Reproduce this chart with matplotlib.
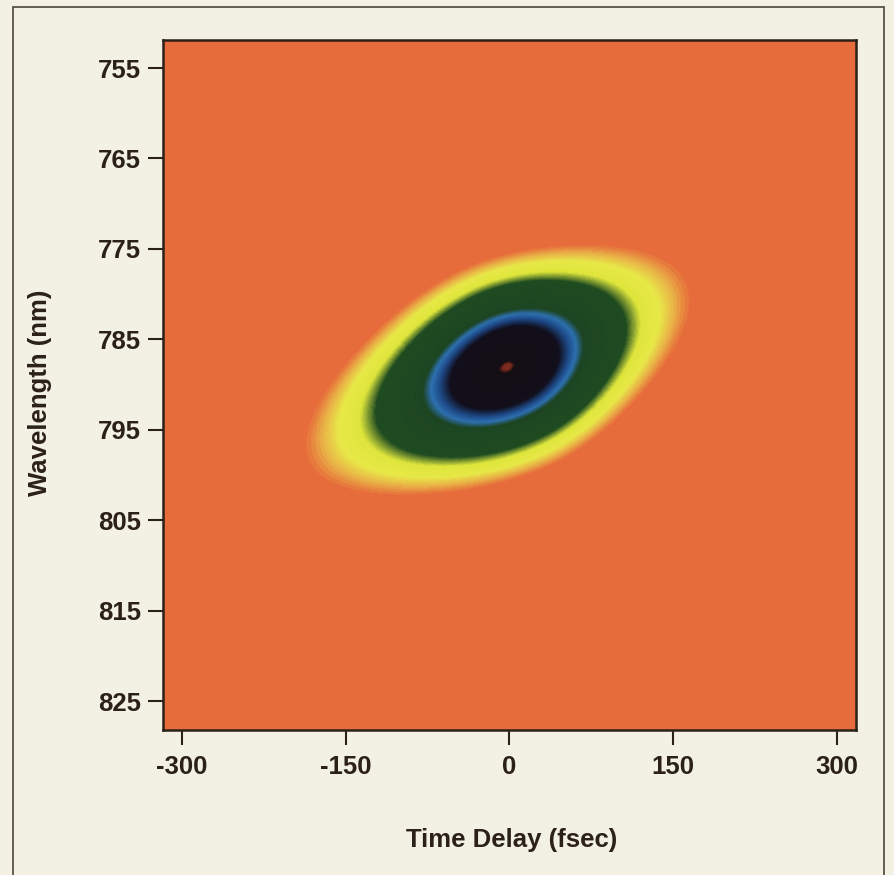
import numpy as np
import matplotlib
matplotlib.use("Agg")
import matplotlib.pyplot as plt
from matplotlib.colors import LinearSegmentedColormap
from matplotlib.patches import Rectangle

# tick values on both axes
delay_ticks = [-300, -150, 0, 150, 300]
wl_ticks = [755, 765, 775, 785, 795, 805, 815, 825]

# shape of the trace
peak_delay = -2.0         # fs
peak_wl = 788.1           # nm
chirp = -0.058            # nm per fs, slope of the long axis
cross = -3.98             # fs per nm, slope of the short axis
width_long = [92.0, 83.0]  # fs, sech^2 width towards -delay / +delay
width_short = 5.0         # nm, gaussian width across the long axis

# colour scale: fraction of peak -> colour
levels = [0.0, 0.028, 0.045, 0.065, 0.11, 0.135, 0.16, 0.42, 0.49, 0.56, 0.66, 0.993, 1.0]
colours = ["#e76c3b", "#e76c3b", "#e9b447", "#e8e848", "#dfe63c", "#7a9630", "#1f4b21",
           "#1d4522", "#2f72b2", "#1f4c8a", "#120f1c", "#130d14", "#7a2a1e"]

bg = "#f3f1e4"
ink = "#2b2119"

plt.rcParams["font.family"] = ["Liberation Sans", "DejaVu Sans"]
plt.rcParams["font.weight"] = "bold"
plt.rcParams["axes.unicode_minus"] = False

# build the trace on a grid covering the axes
t = np.linspace(-317.4, 317.4, 700)
wl = np.linspace(751.9, 828.2, 700)
T, W = np.meshgrid(t, wl)
dt = T - peak_delay
dw = W - peak_wl
along = dt + cross * dw
across = (dw - chirp * dt) / width_short
along = along / np.where(along < 0, width_long[0], width_long[1])
trace = np.cosh(along) ** -2 * np.exp(-0.5 * across ** 2)

cmap = LinearSegmentedColormap.from_list("frog", list(zip(levels, colours)))

fig = plt.figure(figsize=(8.95, 8.75), dpi=100, facecolor=bg)
ax = fig.add_axes([0.1821, 0.1657, 0.7743, 0.7886])
ax.pcolormesh(T, W, trace, cmap=cmap, vmin=0, vmax=1, shading="gouraud", rasterized=True)

ax.set_xlim(-317.4, 317.4)
ax.set_ylim(828.2, 751.9)
ax.set_xticks(delay_ticks)
ax.set_yticks(wl_ticks)
ax.tick_params(direction="out", length=11, width=1.5, color=ink, labelcolor=ink,
               labelsize=18.5)
ax.tick_params(axis="x", pad=7)
ax.tick_params(axis="y", pad=5)
for s in ax.spines.values():
    s.set_linewidth(1.8)
    s.set_color(ink)

fig.text(0.5715, 0.04, "Time Delay (fsec)", ha="center", va="center",
         fontsize=18.5, fontweight="bold", color=ink)
fig.text(0.045, 0.551, "Wavelength (nm)", ha="center", va="center", rotation=90,
         fontsize=18.5, fontweight="bold", color=ink)

# thin frame round the figure (open at the bottom)
fig.patches.append(Rectangle((0.0145, -0.05), 0.9732, 1.042, transform=fig.transFigure,
                             fill=False, edgecolor="#4a463c", linewidth=1.2))

fig.savefig("out.png", dpi=100, facecolor=bg)
